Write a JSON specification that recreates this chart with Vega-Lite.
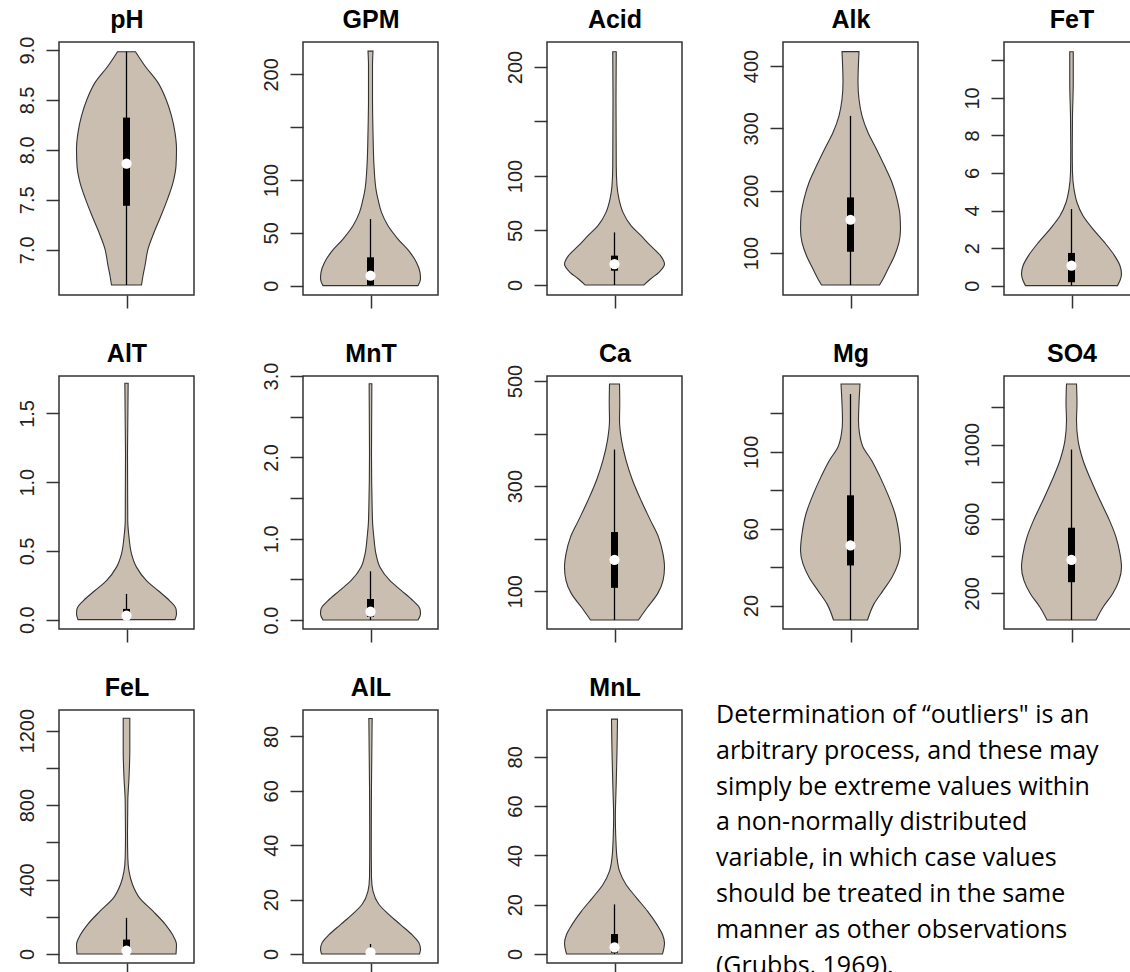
{
  "$schema": "https://vega.github.io/schema/vega-lite/v6.json",
  "background": "white",
  "padding": {"left": 0, "top": 6, "right": 0, "bottom": 0},
  "spacing": 30,
  "datasets": {
    "vio": [
      {"var": "pH", "v": 6.647, "w": 0.30}, {"var": "pH", "v": 6.74, "w": 0.33}, {"var": "pH", "v": 6.84, "w": 0.37}, {"var": "pH", "v": 7.007, "w": 0.43}, {"var": "pH", "v": 7.173, "w": 0.55}, {"var": "pH", "v": 7.34, "w": 0.69}, {"var": "pH", "v": 7.507, "w": 0.82}, {"var": "pH", "v": 7.673, "w": 0.93}, {"var": "pH", "v": 7.84, "w": 0.99}, {"var": "pH", "v": 8.007, "w": 1.0}, {"var": "pH", "v": 8.173, "w": 0.97}, {"var": "pH", "v": 8.34, "w": 0.9}, {"var": "pH", "v": 8.507, "w": 0.79}, {"var": "pH", "v": 8.673, "w": 0.63}, {"var": "pH", "v": 8.84, "w": 0.37}, {"var": "pH", "v": 8.983, "w": 0.18},
      {"var": "GPM", "v": 0, "w": 0.95}, {"var": "GPM", "v": 6.3, "w": 1.0}, {"var": "GPM", "v": 12.6, "w": 0.99}, {"var": "GPM", "v": 22, "w": 0.92}, {"var": "GPM", "v": 31.5, "w": 0.79}, {"var": "GPM", "v": 44.1, "w": 0.55}, {"var": "GPM", "v": 56.7, "w": 0.35}, {"var": "GPM", "v": 69.3, "w": 0.22}, {"var": "GPM", "v": 81.9, "w": 0.15}, {"var": "GPM", "v": 88.2, "w": 0.12}, {"var": "GPM", "v": 113.4, "w": 0.07}, {"var": "GPM", "v": 144.9, "w": 0.05}, {"var": "GPM", "v": 176.4, "w": 0.04}, {"var": "GPM", "v": 207.9, "w": 0.04}, {"var": "GPM", "v": 222, "w": 0.05},
      {"var": "Acid", "v": 0, "w": 0.59}, {"var": "Acid", "v": 5.5, "w": 0.72}, {"var": "Acid", "v": 11.6, "w": 0.89}, {"var": "Acid", "v": 19.2, "w": 1.0}, {"var": "Acid", "v": 26.9, "w": 0.92}, {"var": "Acid", "v": 36, "w": 0.72}, {"var": "Acid", "v": 45.2, "w": 0.53}, {"var": "Acid", "v": 54.4, "w": 0.33}, {"var": "Acid", "v": 66.6, "w": 0.17}, {"var": "Acid", "v": 78.8, "w": 0.09}, {"var": "Acid", "v": 91, "w": 0.05}, {"var": "Acid", "v": 109.3, "w": 0.035}, {"var": "Acid", "v": 170.4, "w": 0.03}, {"var": "Acid", "v": 214, "w": 0.035},
      {"var": "Alk", "v": 48.7, "w": 0.58}, {"var": "Alk", "v": 58.4, "w": 0.65}, {"var": "Alk", "v": 74.4, "w": 0.75}, {"var": "Alk", "v": 95.7, "w": 0.88}, {"var": "Alk", "v": 117.1, "w": 0.97}, {"var": "Alk", "v": 138.4, "w": 1.0}, {"var": "Alk", "v": 159.8, "w": 0.99}, {"var": "Alk", "v": 186.5, "w": 0.93}, {"var": "Alk", "v": 213.2, "w": 0.83}, {"var": "Alk", "v": 239.9, "w": 0.68}, {"var": "Alk", "v": 266.6, "w": 0.52}, {"var": "Alk", "v": 293.3, "w": 0.35}, {"var": "Alk", "v": 320, "w": 0.23}, {"var": "Alk", "v": 346.7, "w": 0.17}, {"var": "Alk", "v": 373.4, "w": 0.15}, {"var": "Alk", "v": 423, "w": 0.17},
      {"var": "FeT", "v": 0, "w": 0.92}, {"var": "FeT", "v": 0.27, "w": 0.97}, {"var": "FeT", "v": 0.62, "w": 1.0}, {"var": "FeT", "v": 1.06, "w": 0.97}, {"var": "FeT", "v": 1.6, "w": 0.86}, {"var": "FeT", "v": 2.3, "w": 0.66}, {"var": "FeT", "v": 3.01, "w": 0.43}, {"var": "FeT", "v": 3.72, "w": 0.23}, {"var": "FeT", "v": 4.43, "w": 0.11}, {"var": "FeT", "v": 5.14, "w": 0.05}, {"var": "FeT", "v": 6.03, "w": 0.02}, {"var": "FeT", "v": 7.27, "w": 0.015}, {"var": "FeT", "v": 9.04, "w": 0.02}, {"var": "FeT", "v": 10.82, "w": 0.035}, {"var": "FeT", "v": 12.46, "w": 0.035},
      {"var": "AlT", "v": 0, "w": 0.97}, {"var": "AlT", "v": 0.041, "w": 1.0}, {"var": "AlT", "v": 0.078, "w": 0.99}, {"var": "AlT", "v": 0.139, "w": 0.86}, {"var": "AlT", "v": 0.212, "w": 0.63}, {"var": "AlT", "v": 0.284, "w": 0.4}, {"var": "AlT", "v": 0.382, "w": 0.2}, {"var": "AlT", "v": 0.479, "w": 0.1}, {"var": "AlT", "v": 0.6, "w": 0.05}, {"var": "AlT", "v": 0.722, "w": 0.025}, {"var": "AlT", "v": 1.208, "w": 0.02}, {"var": "AlT", "v": 1.719, "w": 0.033},
      {"var": "MnT", "v": 0, "w": 0.95}, {"var": "MnT", "v": 0.074, "w": 1.0}, {"var": "MnT", "v": 0.135, "w": 0.99}, {"var": "MnT", "v": 0.238, "w": 0.85}, {"var": "MnT", "v": 0.361, "w": 0.62}, {"var": "MnT", "v": 0.484, "w": 0.39}, {"var": "MnT", "v": 0.648, "w": 0.19}, {"var": "MnT", "v": 0.812, "w": 0.11}, {"var": "MnT", "v": 1.018, "w": 0.067}, {"var": "MnT", "v": 1.223, "w": 0.04}, {"var": "MnT", "v": 2.044, "w": 0.02}, {"var": "MnT", "v": 2.905, "w": 0.027},
      {"var": "Ca", "v": 45.3, "w": 0.48}, {"var": "Ca", "v": 69.5, "w": 0.66}, {"var": "Ca", "v": 94.9, "w": 0.86}, {"var": "Ca", "v": 120.3, "w": 0.97}, {"var": "Ca", "v": 145.8, "w": 1.0}, {"var": "Ca", "v": 171.2, "w": 0.97}, {"var": "Ca", "v": 203, "w": 0.88}, {"var": "Ca", "v": 234.8, "w": 0.72}, {"var": "Ca", "v": 273, "w": 0.53}, {"var": "Ca", "v": 311.1, "w": 0.36}, {"var": "Ca", "v": 349.3, "w": 0.23}, {"var": "Ca", "v": 387.4, "w": 0.14}, {"var": "Ca", "v": 425.6, "w": 0.1}, {"var": "Ca", "v": 457.4, "w": 0.105}, {"var": "Ca", "v": 494.3, "w": 0.1},
      {"var": "Mg", "v": 12.5, "w": 0.34}, {"var": "Mg", "v": 20.9, "w": 0.47}, {"var": "Mg", "v": 27.8, "w": 0.65}, {"var": "Mg", "v": 34.8, "w": 0.83}, {"var": "Mg", "v": 41.7, "w": 0.95}, {"var": "Mg", "v": 48.7, "w": 1.0}, {"var": "Mg", "v": 57.4, "w": 0.97}, {"var": "Mg", "v": 67.8, "w": 0.89}, {"var": "Mg", "v": 78.3, "w": 0.74}, {"var": "Mg", "v": 87, "w": 0.59}, {"var": "Mg", "v": 95.7, "w": 0.42}, {"var": "Mg", "v": 102.6, "w": 0.25}, {"var": "Mg", "v": 109.6, "w": 0.18}, {"var": "Mg", "v": 116.5, "w": 0.16}, {"var": "Mg", "v": 125.2, "w": 0.17}, {"var": "Mg", "v": 135.3, "w": 0.19},
      {"var": "SO4", "v": 56.1, "w": 0.49}, {"var": "SO4", "v": 124.5, "w": 0.63}, {"var": "SO4", "v": 196.4, "w": 0.82}, {"var": "SO4", "v": 268.3, "w": 0.95}, {"var": "SO4", "v": 340.3, "w": 1.0}, {"var": "SO4", "v": 412.2, "w": 0.97}, {"var": "SO4", "v": 502.2, "w": 0.89}, {"var": "SO4", "v": 592.1, "w": 0.76}, {"var": "SO4", "v": 700, "w": 0.57}, {"var": "SO4", "v": 807.9, "w": 0.39}, {"var": "SO4", "v": 915.8, "w": 0.23}, {"var": "SO4", "v": 1023.7, "w": 0.13}, {"var": "SO4", "v": 1131.7, "w": 0.1}, {"var": "SO4", "v": 1221.6, "w": 0.11}, {"var": "SO4", "v": 1326, "w": 0.1},
      {"var": "FeL", "v": 0, "w": 0.99}, {"var": "FeL", "v": 50.3, "w": 1.0}, {"var": "FeL", "v": 104.2, "w": 0.92}, {"var": "FeL", "v": 158.1, "w": 0.78}, {"var": "FeL", "v": 229.9, "w": 0.53}, {"var": "FeL", "v": 301.8, "w": 0.26}, {"var": "FeL", "v": 373.6, "w": 0.12}, {"var": "FeL", "v": 445.5, "w": 0.05}, {"var": "FeL", "v": 517.3, "w": 0.026}, {"var": "FeL", "v": 643.1, "w": 0.02}, {"var": "FeL", "v": 822.7, "w": 0.026}, {"var": "FeL", "v": 948.5, "w": 0.05}, {"var": "FeL", "v": 1092.2, "w": 0.066}, {"var": "FeL", "v": 1266.4, "w": 0.066},
      {"var": "AlL", "v": 0, "w": 0.98}, {"var": "AlL", "v": 1.8, "w": 1.0}, {"var": "AlL", "v": 4.1, "w": 0.97}, {"var": "AlL", "v": 7.1, "w": 0.83}, {"var": "AlL", "v": 10.8, "w": 0.6}, {"var": "AlL", "v": 14.5, "w": 0.37}, {"var": "AlL", "v": 18.2, "w": 0.17}, {"var": "AlL", "v": 23.1, "w": 0.05}, {"var": "AlL", "v": 28, "w": 0.02}, {"var": "AlL", "v": 37.8, "w": 0.015}, {"var": "AlL", "v": 62.4, "w": 0.02}, {"var": "AlL", "v": 86.6, "w": 0.033},
      {"var": "MnL", "v": 0, "w": 0.96}, {"var": "MnL", "v": 4.5, "w": 1.0}, {"var": "MnL", "v": 7.9, "w": 0.96}, {"var": "MnL", "v": 11.9, "w": 0.85}, {"var": "MnL", "v": 17.4, "w": 0.66}, {"var": "MnL", "v": 22.8, "w": 0.44}, {"var": "MnL", "v": 28.2, "w": 0.23}, {"var": "MnL", "v": 33.6, "w": 0.1}, {"var": "MnL", "v": 39.1, "w": 0.05}, {"var": "MnL", "v": 47.2, "w": 0.026}, {"var": "MnL", "v": 55.3, "w": 0.017}, {"var": "MnL", "v": 68.9, "w": 0.034}, {"var": "MnL", "v": 82.4, "w": 0.05}, {"var": "MnL", "v": 95.3, "w": 0.06}
    ],
    "whisk": [
      {"var": "pH", "v": 6.647, "v2": 8.983}, {"var": "GPM", "v": 0, "v2": 63}, {"var": "Acid", "v": 0, "v2": 48.2}, {"var": "Alk", "v": 48.7, "v2": 320}, {"var": "FeT", "v": 0, "v2": 4.08},
      {"var": "AlT", "v": 0, "v2": 0.187}, {"var": "MnT", "v": 0, "v2": 0.6}, {"var": "Ca", "v": 45.3, "v2": 369.6}, {"var": "Mg", "v": 12.5, "v2": 130.1}, {"var": "SO4", "v": 56.1, "v2": 973.4},
      {"var": "FeL", "v": 0, "v2": 194}, {"var": "AlL", "v": 0, "v2": 3.7}, {"var": "MnL", "v": 0, "v2": 20.1}
    ],
    "box": [
      {"var": "pH", "v": 7.44, "v2": 8.323}, {"var": "GPM", "v": 0.6, "v2": 26.8}, {"var": "Acid", "v": 13.1, "v2": 26.9}, {"var": "Alk", "v": 102.1, "v2": 189.2}, {"var": "FeT", "v": 0.18, "v2": 1.74},
      {"var": "AlT", "v": 0, "v2": 0.078}, {"var": "MnT", "v": 0.04, "v2": 0.259}, {"var": "Ca", "v": 106.4, "v2": 212.6}, {"var": "Mg", "v": 40.9, "v2": 77.4}, {"var": "SO4", "v": 259.4, "v2": 552.5},
      {"var": "FeL", "v": 0, "v2": 77.2}, {"var": "AlL", "v": 0, "v2": 1.5}, {"var": "MnL", "v": 0.5, "v2": 8.1}
    ],
    "med": [
      {"var": "pH", "v": 7.863}, {"var": "GPM", "v": 9.4}, {"var": "Acid", "v": 19.2}, {"var": "Alk", "v": 153.4}, {"var": "FeT", "v": 1.06},
      {"var": "AlT", "v": 0.029}, {"var": "MnT", "v": 0.103}, {"var": "Ca", "v": 159.8}, {"var": "Mg", "v": 51.3}, {"var": "SO4", "v": 379.9},
      {"var": "FeL", "v": 18}, {"var": "AlL", "v": 0.6}, {"var": "MnL", "v": 2.7}
    ],
    "txt": [
      {"line": 1, "t": "Determination of “outliers\" is an"},
      {"line": 2, "t": "arbitrary process, and these may"},
      {"line": 3, "t": "simply be extreme values within"},
      {"line": 4, "t": "a non-normally distributed"},
      {"line": 5, "t": "variable, in which case values"},
      {"line": 6, "t": "should be treated in the same"},
      {"line": 7, "t": "manner as other observations"},
      {"line": 8, "t": "(Grubbs, 1969)."}
    ]
  },
  "vconcat": [
    {"spacing": 33, "hconcat": [
      {"width": 135, "height": 253, "resolve": {"axis": {"x": "independent"}},
       "encoding": {"y": {"field": "v", "type": "quantitative", "scale": {"domain": [6.547, 9.08], "nice": false, "zero": false}, "axis": {"title": null, "values": [7, 7.5, 8, 8.5, 9], "format": ".1f", "minExtent": 58, "maxExtent": 58}}},
       "layer": [
        {"data": {"name": "vio"}, "transform": [{"filter": "datum.var == 'pH'"}], "mark": {"type": "area", "orient": "horizontal", "interpolate": "monotone", "fill": "#C9BEB0", "stroke": "#333333", "strokeWidth": 1.1},
         "encoding": {"x": {"field": "w", "type": "quantitative", "stack": "center", "scale": {"domain": [-0.175, 1.175], "nice": false, "zero": false}, "axis": {"values": [0.5], "title": null}}}},
        {"data": {"name": "whisk"}, "transform": [{"filter": "datum.var == 'pH'"}], "mark": {"type": "rule", "color": "black", "strokeWidth": 1.3}, "encoding": {"x": {"datum": 0.5, "type": "quantitative", "axis": {"orient": "top", "title": "pH", "ticks": false, "labels": false, "domain": false, "grid": false, "minExtent": 0, "maxExtent": 0}}, "y2": {"field": "v2"}}},
        {"data": {"name": "box"}, "transform": [{"filter": "datum.var == 'pH'"}], "mark": {"type": "rule", "color": "black", "strokeWidth": 7, "strokeCap": "butt"}, "encoding": {"x": {"datum": 0.5, "type": "quantitative", "axis": null}, "y2": {"field": "v2"}}},
        {"data": {"name": "med"}, "transform": [{"filter": "datum.var == 'pH'"}], "mark": {"type": "circle", "color": "white", "opacity": 1, "size": 105}, "encoding": {"x": {"datum": 0.5, "type": "quantitative", "axis": null}}}
      ]},
      {"width": 135, "height": 253, "resolve": {"axis": {"x": "independent"}},
       "encoding": {"y": {"field": "v", "type": "quantitative", "scale": {"domain": [-8.87, 230.6], "nice": false, "zero": false}, "axis": {"title": null, "values": [0, 50, 100, 150, 200], "format": "d", "labelExpr": "datum.value == 150 ? '' : datum.label", "minExtent": 74, "maxExtent": 74}}},
       "layer": [
        {"data": {"name": "vio"}, "transform": [{"filter": "datum.var == 'GPM'"}], "mark": {"type": "area", "orient": "horizontal", "interpolate": "monotone", "fill": "#C9BEB0", "stroke": "#333333", "strokeWidth": 1.1},
         "encoding": {"x": {"field": "w", "type": "quantitative", "stack": "center", "scale": {"domain": [-0.175, 1.175], "nice": false, "zero": false}, "axis": {"values": [0.5], "title": null}}}},
        {"data": {"name": "whisk"}, "transform": [{"filter": "datum.var == 'GPM'"}], "mark": {"type": "rule", "color": "black", "strokeWidth": 1.3}, "encoding": {"x": {"datum": 0.5, "type": "quantitative", "axis": {"orient": "top", "title": "GPM", "ticks": false, "labels": false, "domain": false, "grid": false, "minExtent": 0, "maxExtent": 0}}, "y2": {"field": "v2"}}},
        {"data": {"name": "box"}, "transform": [{"filter": "datum.var == 'GPM'"}], "mark": {"type": "rule", "color": "black", "strokeWidth": 7, "strokeCap": "butt"}, "encoding": {"x": {"datum": 0.5, "type": "quantitative", "axis": null}, "y2": {"field": "v2"}}},
        {"data": {"name": "med"}, "transform": [{"filter": "datum.var == 'GPM'"}], "mark": {"type": "circle", "color": "white", "opacity": 1, "size": 105}, "encoding": {"x": {"datum": 0.5, "type": "quantitative", "axis": null}}}
      ]},
      {"width": 135, "height": 253, "resolve": {"axis": {"x": "independent"}},
       "encoding": {"y": {"field": "v", "type": "quantitative", "scale": {"domain": [-9.2, 222.9], "nice": false, "zero": false}, "axis": {"title": null, "values": [0, 50, 100, 150, 200], "format": "d", "labelExpr": "datum.value == 150 ? '' : datum.label", "minExtent": 74, "maxExtent": 74}}},
       "layer": [
        {"data": {"name": "vio"}, "transform": [{"filter": "datum.var == 'Acid'"}], "mark": {"type": "area", "orient": "horizontal", "interpolate": "monotone", "fill": "#C9BEB0", "stroke": "#333333", "strokeWidth": 1.1},
         "encoding": {"x": {"field": "w", "type": "quantitative", "stack": "center", "scale": {"domain": [-0.175, 1.175], "nice": false, "zero": false}, "axis": {"values": [0.5], "title": null}}}},
        {"data": {"name": "whisk"}, "transform": [{"filter": "datum.var == 'Acid'"}], "mark": {"type": "rule", "color": "black", "strokeWidth": 1.3}, "encoding": {"x": {"datum": 0.5, "type": "quantitative", "axis": {"orient": "top", "title": "Acid", "ticks": false, "labels": false, "domain": false, "grid": false, "minExtent": 0, "maxExtent": 0}}, "y2": {"field": "v2"}}},
        {"data": {"name": "box"}, "transform": [{"filter": "datum.var == 'Acid'"}], "mark": {"type": "rule", "color": "black", "strokeWidth": 7, "strokeCap": "butt"}, "encoding": {"x": {"datum": 0.5, "type": "quantitative", "axis": null}, "y2": {"field": "v2"}}},
        {"data": {"name": "med"}, "transform": [{"filter": "datum.var == 'Acid'"}], "mark": {"type": "circle", "color": "white", "opacity": 1, "size": 105}, "encoding": {"x": {"datum": 0.5, "type": "quantitative", "axis": null}}}
      ]},
      {"width": 135, "height": 253, "resolve": {"axis": {"x": "independent"}},
       "encoding": {"y": {"field": "v", "type": "quantitative", "scale": {"domain": [32.7, 438.5], "nice": false, "zero": false}, "axis": {"title": null, "values": [100, 200, 300, 400], "format": "d", "minExtent": 66, "maxExtent": 66}}},
       "layer": [
        {"data": {"name": "vio"}, "transform": [{"filter": "datum.var == 'Alk'"}], "mark": {"type": "area", "orient": "horizontal", "interpolate": "monotone", "fill": "#C9BEB0", "stroke": "#333333", "strokeWidth": 1.1},
         "encoding": {"x": {"field": "w", "type": "quantitative", "stack": "center", "scale": {"domain": [-0.175, 1.175], "nice": false, "zero": false}, "axis": {"values": [0.5], "title": null}}}},
        {"data": {"name": "whisk"}, "transform": [{"filter": "datum.var == 'Alk'"}], "mark": {"type": "rule", "color": "black", "strokeWidth": 1.3}, "encoding": {"x": {"datum": 0.5, "type": "quantitative", "axis": {"orient": "top", "title": "Alk", "ticks": false, "labels": false, "domain": false, "grid": false, "minExtent": 0, "maxExtent": 0}}, "y2": {"field": "v2"}}},
        {"data": {"name": "box"}, "transform": [{"filter": "datum.var == 'Alk'"}], "mark": {"type": "rule", "color": "black", "strokeWidth": 7, "strokeCap": "butt"}, "encoding": {"x": {"datum": 0.5, "type": "quantitative", "axis": null}, "y2": {"field": "v2"}}},
        {"data": {"name": "med"}, "transform": [{"filter": "datum.var == 'Alk'"}], "mark": {"type": "circle", "color": "white", "opacity": 1, "size": 105}, "encoding": {"x": {"datum": 0.5, "type": "quantitative", "axis": null}}}
      ]},
      {"width": 127, "height": 253, "resolve": {"axis": {"x": "independent"}},
       "encoding": {"y": {"field": "v", "type": "quantitative", "scale": {"domain": [-0.5, 12.98], "nice": false, "zero": false}, "axis": {"title": null, "values": [0, 2, 4, 6, 8, 10, 12], "format": "d", "labelExpr": "datum.value == 12 ? '' : datum.label", "minExtent": 51, "maxExtent": 51}}},
       "layer": [
        {"data": {"name": "vio"}, "transform": [{"filter": "datum.var == 'FeT'"}], "mark": {"type": "area", "orient": "horizontal", "interpolate": "monotone", "fill": "#C9BEB0", "stroke": "#333333", "strokeWidth": 1.1},
         "encoding": {"x": {"field": "w", "type": "quantitative", "stack": "center", "scale": {"domain": [-0.175, 1.095], "nice": false, "zero": false}, "axis": {"values": [0.5], "title": null}}}},
        {"data": {"name": "whisk"}, "transform": [{"filter": "datum.var == 'FeT'"}], "mark": {"type": "rule", "color": "black", "strokeWidth": 1.3}, "encoding": {"x": {"datum": 0.5, "type": "quantitative", "axis": {"orient": "top", "title": "FeT", "ticks": false, "labels": false, "domain": false, "grid": false, "minExtent": 0, "maxExtent": 0, "titleX": 67.5}}, "y2": {"field": "v2"}}},
        {"data": {"name": "box"}, "transform": [{"filter": "datum.var == 'FeT'"}], "mark": {"type": "rule", "color": "black", "strokeWidth": 7, "strokeCap": "butt"}, "encoding": {"x": {"datum": 0.5, "type": "quantitative", "axis": null}, "y2": {"field": "v2"}}},
        {"data": {"name": "med"}, "transform": [{"filter": "datum.var == 'FeT'"}], "mark": {"type": "circle", "color": "white", "opacity": 1, "size": 105}, "encoding": {"x": {"datum": 0.5, "type": "quantitative", "axis": null}}}
      ]}
    ]},
    {"spacing": 33, "hconcat": [
      {"width": 135, "height": 253, "resolve": {"axis": {"x": "independent"}},
       "encoding": {"y": {"field": "v", "type": "quantitative", "scale": {"domain": [-0.068, 1.772], "nice": false, "zero": false}, "axis": {"title": null, "values": [0, 0.5, 1, 1.5], "format": ".1f", "minExtent": 58, "maxExtent": 58}}},
       "layer": [
        {"data": {"name": "vio"}, "transform": [{"filter": "datum.var == 'AlT'"}], "mark": {"type": "area", "orient": "horizontal", "interpolate": "monotone", "fill": "#C9BEB0", "stroke": "#333333", "strokeWidth": 1.1},
         "encoding": {"x": {"field": "w", "type": "quantitative", "stack": "center", "scale": {"domain": [-0.175, 1.175], "nice": false, "zero": false}, "axis": {"values": [0.5], "title": null}}}},
        {"data": {"name": "whisk"}, "transform": [{"filter": "datum.var == 'AlT'"}], "mark": {"type": "rule", "color": "black", "strokeWidth": 1.3}, "encoding": {"x": {"datum": 0.5, "type": "quantitative", "axis": {"orient": "top", "title": "AlT", "ticks": false, "labels": false, "domain": false, "grid": false, "minExtent": 0, "maxExtent": 0}}, "y2": {"field": "v2"}}},
        {"data": {"name": "box"}, "transform": [{"filter": "datum.var == 'AlT'"}], "mark": {"type": "rule", "color": "black", "strokeWidth": 7, "strokeCap": "butt"}, "encoding": {"x": {"datum": 0.5, "type": "quantitative", "axis": null}, "y2": {"field": "v2"}}},
        {"data": {"name": "med"}, "transform": [{"filter": "datum.var == 'AlT'"}], "mark": {"type": "circle", "color": "white", "opacity": 1, "size": 105}, "encoding": {"x": {"datum": 0.5, "type": "quantitative", "axis": null}}}
      ]},
      {"width": 135, "height": 253, "resolve": {"axis": {"x": "independent"}},
       "encoding": {"y": {"field": "v", "type": "quantitative", "scale": {"domain": [-0.11, 3.001], "nice": false, "zero": false}, "axis": {"title": null, "values": [0, 0.5, 1, 1.5, 2, 2.5, 3], "format": ".1f", "labelExpr": "datum.value % 1 == 0 ? datum.label : ''", "minExtent": 74, "maxExtent": 74}}},
       "layer": [
        {"data": {"name": "vio"}, "transform": [{"filter": "datum.var == 'MnT'"}], "mark": {"type": "area", "orient": "horizontal", "interpolate": "monotone", "fill": "#C9BEB0", "stroke": "#333333", "strokeWidth": 1.1},
         "encoding": {"x": {"field": "w", "type": "quantitative", "stack": "center", "scale": {"domain": [-0.175, 1.175], "nice": false, "zero": false}, "axis": {"values": [0.5], "title": null}}}},
        {"data": {"name": "whisk"}, "transform": [{"filter": "datum.var == 'MnT'"}], "mark": {"type": "rule", "color": "black", "strokeWidth": 1.3}, "encoding": {"x": {"datum": 0.5, "type": "quantitative", "axis": {"orient": "top", "title": "MnT", "ticks": false, "labels": false, "domain": false, "grid": false, "minExtent": 0, "maxExtent": 0}}, "y2": {"field": "v2"}}},
        {"data": {"name": "box"}, "transform": [{"filter": "datum.var == 'MnT'"}], "mark": {"type": "rule", "color": "black", "strokeWidth": 7, "strokeCap": "butt"}, "encoding": {"x": {"datum": 0.5, "type": "quantitative", "axis": null}, "y2": {"field": "v2"}}},
        {"data": {"name": "med"}, "transform": [{"filter": "datum.var == 'MnT'"}], "mark": {"type": "circle", "color": "white", "opacity": 1, "size": 105}, "encoding": {"x": {"datum": 0.5, "type": "quantitative", "axis": null}}}
      ]},
      {"width": 135, "height": 253, "resolve": {"axis": {"x": "independent"}},
       "encoding": {"y": {"field": "v", "type": "quantitative", "scale": {"domain": [28.1, 509.5], "nice": false, "zero": false}, "axis": {"title": null, "values": [100, 200, 300, 400, 500], "format": "d", "labelExpr": "datum.value % 200 == 0 ? '' : datum.label", "minExtent": 74, "maxExtent": 74}}},
       "layer": [
        {"data": {"name": "vio"}, "transform": [{"filter": "datum.var == 'Ca'"}], "mark": {"type": "area", "orient": "horizontal", "interpolate": "monotone", "fill": "#C9BEB0", "stroke": "#333333", "strokeWidth": 1.1},
         "encoding": {"x": {"field": "w", "type": "quantitative", "stack": "center", "scale": {"domain": [-0.175, 1.175], "nice": false, "zero": false}, "axis": {"values": [0.5], "title": null}}}},
        {"data": {"name": "whisk"}, "transform": [{"filter": "datum.var == 'Ca'"}], "mark": {"type": "rule", "color": "black", "strokeWidth": 1.3}, "encoding": {"x": {"datum": 0.5, "type": "quantitative", "axis": {"orient": "top", "title": "Ca", "ticks": false, "labels": false, "domain": false, "grid": false, "minExtent": 0, "maxExtent": 0}}, "y2": {"field": "v2"}}},
        {"data": {"name": "box"}, "transform": [{"filter": "datum.var == 'Ca'"}], "mark": {"type": "rule", "color": "black", "strokeWidth": 7, "strokeCap": "butt"}, "encoding": {"x": {"datum": 0.5, "type": "quantitative", "axis": null}, "y2": {"field": "v2"}}},
        {"data": {"name": "med"}, "transform": [{"filter": "datum.var == 'Ca'"}], "mark": {"type": "circle", "color": "white", "opacity": 1, "size": 105}, "encoding": {"x": {"datum": 0.5, "type": "quantitative", "axis": null}}}
      ]},
      {"width": 135, "height": 253, "resolve": {"axis": {"x": "independent"}},
       "encoding": {"y": {"field": "v", "type": "quantitative", "scale": {"domain": [7.83, 139.5], "nice": false, "zero": false}, "axis": {"title": null, "values": [20, 40, 60, 80, 100, 120], "format": "d", "labelExpr": "datum.value % 40 == 20 ? datum.label : ''", "minExtent": 66, "maxExtent": 66}}},
       "layer": [
        {"data": {"name": "vio"}, "transform": [{"filter": "datum.var == 'Mg'"}], "mark": {"type": "area", "orient": "horizontal", "interpolate": "monotone", "fill": "#C9BEB0", "stroke": "#333333", "strokeWidth": 1.1},
         "encoding": {"x": {"field": "w", "type": "quantitative", "stack": "center", "scale": {"domain": [-0.175, 1.175], "nice": false, "zero": false}, "axis": {"values": [0.5], "title": null}}}},
        {"data": {"name": "whisk"}, "transform": [{"filter": "datum.var == 'Mg'"}], "mark": {"type": "rule", "color": "black", "strokeWidth": 1.3}, "encoding": {"x": {"datum": 0.5, "type": "quantitative", "axis": {"orient": "top", "title": "Mg", "ticks": false, "labels": false, "domain": false, "grid": false, "minExtent": 0, "maxExtent": 0}}, "y2": {"field": "v2"}}},
        {"data": {"name": "box"}, "transform": [{"filter": "datum.var == 'Mg'"}], "mark": {"type": "rule", "color": "black", "strokeWidth": 7, "strokeCap": "butt"}, "encoding": {"x": {"datum": 0.5, "type": "quantitative", "axis": null}, "y2": {"field": "v2"}}},
        {"data": {"name": "med"}, "transform": [{"filter": "datum.var == 'Mg'"}], "mark": {"type": "circle", "color": "white", "opacity": 1, "size": 105}, "encoding": {"x": {"datum": 0.5, "type": "quantitative", "axis": null}}}
      ]},
      {"width": 127, "height": 253, "resolve": {"axis": {"x": "independent"}},
       "encoding": {"y": {"field": "v", "type": "quantitative", "scale": {"domain": [7.6, 1369], "nice": false, "zero": false}, "axis": {"title": null, "values": [200, 400, 600, 800, 1000, 1200], "format": "d", "labelExpr": "datum.value % 400 == 200 ? datum.label : ''", "minExtent": 51, "maxExtent": 51}}},
       "layer": [
        {"data": {"name": "vio"}, "transform": [{"filter": "datum.var == 'SO4'"}], "mark": {"type": "area", "orient": "horizontal", "interpolate": "monotone", "fill": "#C9BEB0", "stroke": "#333333", "strokeWidth": 1.1},
         "encoding": {"x": {"field": "w", "type": "quantitative", "stack": "center", "scale": {"domain": [-0.175, 1.095], "nice": false, "zero": false}, "axis": {"values": [0.5], "title": null}}}},
        {"data": {"name": "whisk"}, "transform": [{"filter": "datum.var == 'SO4'"}], "mark": {"type": "rule", "color": "black", "strokeWidth": 1.3}, "encoding": {"x": {"datum": 0.5, "type": "quantitative", "axis": {"orient": "top", "title": "SO4", "ticks": false, "labels": false, "domain": false, "grid": false, "minExtent": 0, "maxExtent": 0, "titleX": 67.5}}, "y2": {"field": "v2"}}},
        {"data": {"name": "box"}, "transform": [{"filter": "datum.var == 'SO4'"}], "mark": {"type": "rule", "color": "black", "strokeWidth": 7, "strokeCap": "butt"}, "encoding": {"x": {"datum": 0.5, "type": "quantitative", "axis": null}, "y2": {"field": "v2"}}},
        {"data": {"name": "med"}, "transform": [{"filter": "datum.var == 'SO4'"}], "mark": {"type": "circle", "color": "white", "opacity": 1, "size": 105}, "encoding": {"x": {"datum": 0.5, "type": "quantitative", "axis": null}}}
      ]}
    ]},
    {"spacing": 33, "hconcat": [
      {"width": 135, "height": 253, "resolve": {"axis": {"x": "independent"}},
       "encoding": {"y": {"field": "v", "type": "quantitative", "scale": {"domain": [-48.5, 1311], "nice": false, "zero": false}, "axis": {"title": null, "values": [0, 200, 400, 600, 800, 1000, 1200], "format": "d", "labelExpr": "datum.value % 400 == 0 ? datum.label : ''", "minExtent": 58, "maxExtent": 58}}},
       "layer": [
        {"data": {"name": "vio"}, "transform": [{"filter": "datum.var == 'FeL'"}], "mark": {"type": "area", "orient": "horizontal", "interpolate": "monotone", "fill": "#C9BEB0", "stroke": "#333333", "strokeWidth": 1.1},
         "encoding": {"x": {"field": "w", "type": "quantitative", "stack": "center", "scale": {"domain": [-0.175, 1.175], "nice": false, "zero": false}, "axis": {"values": [0.5], "title": null}}}},
        {"data": {"name": "whisk"}, "transform": [{"filter": "datum.var == 'FeL'"}], "mark": {"type": "rule", "color": "black", "strokeWidth": 1.3}, "encoding": {"x": {"datum": 0.5, "type": "quantitative", "axis": {"orient": "top", "title": "FeL", "ticks": false, "labels": false, "domain": false, "grid": false, "minExtent": 0, "maxExtent": 0}}, "y2": {"field": "v2"}}},
        {"data": {"name": "box"}, "transform": [{"filter": "datum.var == 'FeL'"}], "mark": {"type": "rule", "color": "black", "strokeWidth": 7, "strokeCap": "butt"}, "encoding": {"x": {"datum": 0.5, "type": "quantitative", "axis": null}, "y2": {"field": "v2"}}},
        {"data": {"name": "med"}, "transform": [{"filter": "datum.var == 'FeL'"}], "mark": {"type": "circle", "color": "white", "opacity": 1, "size": 105}, "encoding": {"x": {"datum": 0.5, "type": "quantitative", "axis": null}}}
      ]},
      {"width": 135, "height": 253, "resolve": {"axis": {"x": "independent"}},
       "encoding": {"y": {"field": "v", "type": "quantitative", "scale": {"domain": [-3.3, 89.7], "nice": false, "zero": false}, "axis": {"title": null, "values": [0, 20, 40, 60, 80], "format": "d", "minExtent": 74, "maxExtent": 74}}},
       "layer": [
        {"data": {"name": "vio"}, "transform": [{"filter": "datum.var == 'AlL'"}], "mark": {"type": "area", "orient": "horizontal", "interpolate": "monotone", "fill": "#C9BEB0", "stroke": "#333333", "strokeWidth": 1.1},
         "encoding": {"x": {"field": "w", "type": "quantitative", "stack": "center", "scale": {"domain": [-0.175, 1.175], "nice": false, "zero": false}, "axis": {"values": [0.5], "title": null}}}},
        {"data": {"name": "whisk"}, "transform": [{"filter": "datum.var == 'AlL'"}], "mark": {"type": "rule", "color": "black", "strokeWidth": 1.3}, "encoding": {"x": {"datum": 0.5, "type": "quantitative", "axis": {"orient": "top", "title": "AlL", "ticks": false, "labels": false, "domain": false, "grid": false, "minExtent": 0, "maxExtent": 0}}, "y2": {"field": "v2"}}},
        {"data": {"name": "box"}, "transform": [{"filter": "datum.var == 'AlL'"}], "mark": {"type": "rule", "color": "black", "strokeWidth": 7, "strokeCap": "butt"}, "encoding": {"x": {"datum": 0.5, "type": "quantitative", "axis": null}, "y2": {"field": "v2"}}},
        {"data": {"name": "med"}, "transform": [{"filter": "datum.var == 'AlL'"}], "mark": {"type": "circle", "color": "white", "opacity": 1, "size": 105}, "encoding": {"x": {"datum": 0.5, "type": "quantitative", "axis": null}}}
      ]},
      {"width": 135, "height": 253, "resolve": {"axis": {"x": "independent"}},
       "encoding": {"y": {"field": "v", "type": "quantitative", "scale": {"domain": [-3.66, 99], "nice": false, "zero": false}, "axis": {"title": null, "values": [0, 20, 40, 60, 80], "format": "d", "minExtent": 74, "maxExtent": 74}}},
       "layer": [
        {"data": {"name": "vio"}, "transform": [{"filter": "datum.var == 'MnL'"}], "mark": {"type": "area", "orient": "horizontal", "interpolate": "monotone", "fill": "#C9BEB0", "stroke": "#333333", "strokeWidth": 1.1},
         "encoding": {"x": {"field": "w", "type": "quantitative", "stack": "center", "scale": {"domain": [-0.175, 1.175], "nice": false, "zero": false}, "axis": {"values": [0.5], "title": null}}}},
        {"data": {"name": "whisk"}, "transform": [{"filter": "datum.var == 'MnL'"}], "mark": {"type": "rule", "color": "black", "strokeWidth": 1.3}, "encoding": {"x": {"datum": 0.5, "type": "quantitative", "axis": {"orient": "top", "title": "MnL", "ticks": false, "labels": false, "domain": false, "grid": false, "minExtent": 0, "maxExtent": 0}}, "y2": {"field": "v2"}}},
        {"data": {"name": "box"}, "transform": [{"filter": "datum.var == 'MnL'"}], "mark": {"type": "rule", "color": "black", "strokeWidth": 7, "strokeCap": "butt"}, "encoding": {"x": {"datum": 0.5, "type": "quantitative", "axis": null}, "y2": {"field": "v2"}}},
        {"data": {"name": "med"}, "transform": [{"filter": "datum.var == 'MnL'"}], "mark": {"type": "circle", "color": "white", "opacity": 1, "size": 105}, "encoding": {"x": {"datum": 0.5, "type": "quantitative", "axis": null}}}
      ]},
      {"width": 414, "height": 263, "data": {"name": "txt"}, "view": {"stroke": null},
       "mark": {"type": "text", "align": "left", "baseline": "alphabetic", "font": "Open Sans", "fontSize": 25, "color": "black"},
       "encoding": {
         "x": {"datum": 0, "type": "quantitative", "scale": {"domain": [0, 1]}, "axis": null},
         "y": {"field": "line", "type": "quantitative", "scale": {"domain": [0.637, 7.983], "reverse": true, "nice": false, "zero": false}, "axis": null},
         "text": {"field": "t"}
       }}
    ]}
  ],
  "config": {
    "view": {"stroke": "#333333", "strokeWidth": 1.5},
    "axisX": {"tickSize": 13, "tickColor": "#333333", "tickWidth": 1.5, "domain": false, "grid": false, "labels": false, "minExtent": 13, "maxExtent": 13},
    "axisTop": {"titleFont": "Liberation Sans", "titleFontSize": 25, "titleFontWeight": "bold", "titleColor": "#000000", "titlePadding": 15, "titleBaseline": "alphabetic"},
    "axisY": {"tickSize": 13, "tickColor": "#333333", "tickWidth": 1.5, "domain": false, "grid": false, "labelAngle": -90, "labelAlign": "center", "labelBaseline": "bottom", "labelPadding": 9, "labelFont": "Liberation Sans", "labelFontSize": 20, "labelColor": "#222222", "labelFlush": false, "labelOverlap": false}
  }
}
